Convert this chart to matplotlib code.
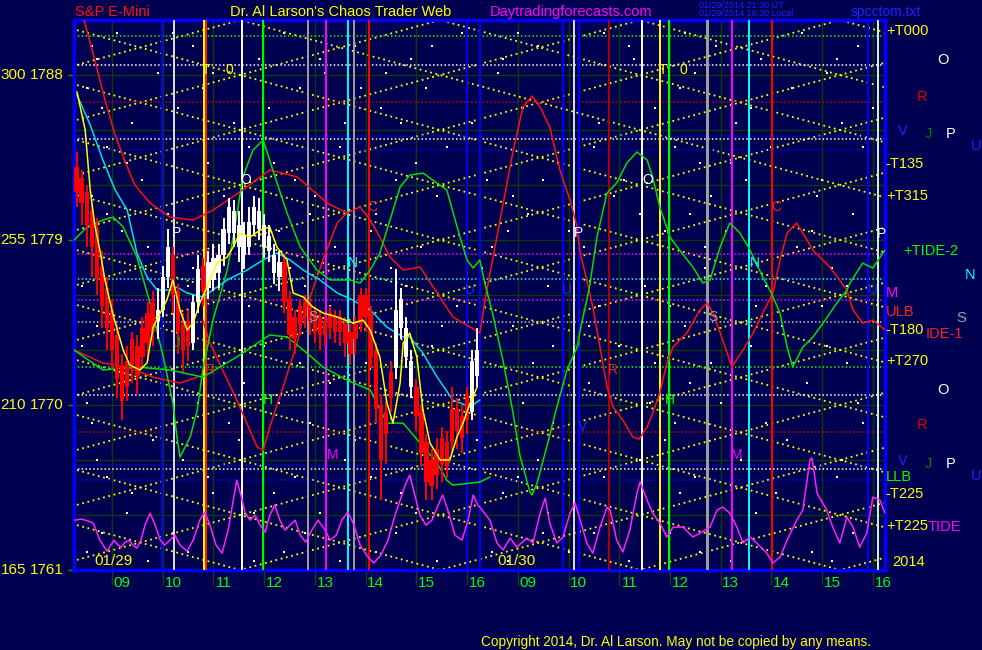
import numpy as np
import matplotlib.pyplot as plt

plt.rcParams['font.family'] = ['Liberation Sans', 'DejaVu Sans']

BG = '#000050'
GRID = '#0b3a0b'

# ---------- data: x = session hours (day 2 = hour + 8), y = price ----------
bar_time = np.round(np.arange(8.3, 16.25, 0.1), 2)
bar_open = [1783.0, 1782.4, 1781.6, 1780.6, 1779.6, 1777.6, 1776.4, 1775.2, 1773.8, 1772.2,
            1772.4, 1773.6, 1773.2, 1774.2, 1775.0, 1775.6, 1774.6, 1775.2, 1777.0, 1778.2,
            1776.2, 1774.4, 1774.6, 1773.4, 1775.6, 1777.6, 1776.4, 1776.8, 1777.2, 1778.2,
            1779.4, 1779.4, 1778.6, 1778.2, 1778.6, 1779.8, 1779.6, 1778.6, 1778.4, 1777.2,
            1777.0, 1777.8, 1775.8, 1774.8, 1775.4, 1775.6, 1775.4, 1775.0, 1774.8, 1774.6,
            1775.0, 1774.8, 1774.8, 1774.4, 1774.0, 1774.4, 1776.0, 1776.0, 1775.0, 1773.0,
            1770.0, 1769.6, 1771.8, 1772.0, 1774.2, 1772.6, 1771.0, 1771.0, 1769.6, 1768.0,
            1767.0, 1767.6, 1768.2, 1768.0, 1769.8, 1769.8, 1769.4, 1770.6, 1769.6, 1771.6]
bar_close = [1781.6, 1781.0, 1779.8, 1778.6, 1776.8, 1775.4, 1774.2, 1773.0, 1771.4, 1770.2,
             1771.0, 1772.2, 1771.6, 1772.6, 1773.4, 1774.0, 1775.2, 1777.0, 1778.6, 1776.0,
             1774.0, 1773.0, 1773.2, 1775.6, 1777.4, 1776.2, 1777.8, 1778.0, 1778.2, 1779.6,
             1780.8, 1780.6, 1779.8, 1779.2, 1780.0, 1780.8, 1780.6, 1779.8, 1779.2, 1778.2,
             1777.8, 1775.6, 1773.8, 1773.6, 1774.4, 1774.8, 1774.6, 1774.0, 1773.8, 1773.8,
             1774.2, 1774.0, 1774.0, 1773.4, 1772.8, 1773.6, 1774.4, 1774.8, 1772.6, 1769.8,
             1767.0, 1768.4, 1770.4, 1775.2, 1775.8, 1774.2, 1772.4, 1769.4, 1767.4, 1765.8,
             1765.6, 1766.2, 1766.8, 1766.6, 1768.0, 1768.6, 1768.2, 1769.2, 1772.4, 1773.0]
bar_high = [1783.8, 1782.8, 1782.0, 1781.0, 1780.2, 1778.4, 1777.0, 1775.8, 1774.4, 1772.8,
            1773.2, 1774.0, 1773.8, 1774.8, 1775.6, 1776.2, 1776.4, 1777.6, 1779.6, 1778.6,
            1776.6, 1775.0, 1775.2, 1776.0, 1778.2, 1778.0, 1778.4, 1778.8, 1778.8, 1780.2,
            1781.3, 1781.2, 1780.6, 1780.0, 1780.8, 1781.4, 1781.3, 1780.4, 1779.8, 1778.8,
            1778.4, 1778.2, 1776.2, 1775.2, 1775.8, 1776.0, 1775.8, 1775.4, 1775.2, 1775.0,
            1775.4, 1775.2, 1775.2, 1774.8, 1774.4, 1774.8, 1776.4, 1776.4, 1775.4, 1773.4,
            1770.6, 1770.2, 1772.4, 1777.4, 1776.4, 1774.8, 1773.0, 1771.4, 1770.0, 1768.4,
            1767.6, 1768.2, 1768.8, 1768.6, 1771.0, 1770.4, 1770.0, 1771.0, 1773.0, 1774.2]
bar_low = [1780.8, 1779.8, 1778.6, 1777.0, 1776.0, 1774.2, 1773.0, 1772.0, 1770.4, 1769.2,
           1770.2, 1771.2, 1770.6, 1772.0, 1772.4, 1773.2, 1773.6, 1774.8, 1776.4, 1775.0,
           1772.8, 1771.8, 1772.4, 1773.0, 1775.0, 1775.4, 1775.8, 1776.2, 1776.4, 1777.6,
           1778.8, 1778.6, 1777.8, 1777.4, 1778.2, 1779.2, 1779.0, 1778.0, 1777.8, 1776.6,
           1776.2, 1775.0, 1773.0, 1772.8, 1773.8, 1774.2, 1773.8, 1773.4, 1773.0, 1773.2,
           1773.6, 1773.4, 1773.2, 1772.6, 1772.2, 1772.8, 1774.0, 1774.0, 1772.0, 1769.0,
           1764.8, 1766.8, 1769.6, 1771.4, 1773.6, 1772.0, 1770.4, 1768.6, 1766.6, 1764.8,
           1764.8, 1765.4, 1765.8, 1766.0, 1767.4, 1767.6, 1767.4, 1768.4, 1769.2, 1771.0]

# forecast / average curves
red_t = [8.40, 8.66, 8.86, 9.06, 9.26, 9.45, 9.75, 10.14, 10.60, 10.99, 11.58, 12.11, 12.65, 13.24,
         13.63, 13.89, 14.09, 14.28, 14.48, 14.74, 15.07, 15.41, 15.72, 16.06, 16.25, 16.39, 16.65,
         16.90, 17.10, 17.28, 17.44, 17.63, 17.83, 18.03, 18.17, 18.23, 18.36, 18.48, 18.62, 18.76,
         18.88, 19.07, 19.27, 19.39, 19.55, 19.66, 19.80, 19.94, 20.06, 20.33, 20.59, 20.73, 20.85,
         21.04, 21.22, 21.44, 21.64, 21.83, 22.03, 22.17, 22.31, 22.50, 22.62, 22.82, 23.15, 23.49,
         23.61, 23.80, 24.00, 24.24]
red_p = [1791.5, 1788.82, 1786.64, 1784.73, 1783.25, 1782.0, 1781.02, 1780.25, 1780.09, 1780.63,
         1781.73, 1782.82, 1782.44, 1781.02, 1780.47, 1780.80, 1780.09, 1779.16, 1778.07, 1777.36,
         1777.53, 1776.11, 1774.80, 1774.25, 1773.92, 1776.27, 1780.09, 1783.74, 1786.25, 1786.85,
         1786.25, 1785.16, 1782.82, 1781.18, 1779.71, 1778.29, 1776.82, 1775.34, 1773.16, 1770.98,
         1769.89, 1769.18, 1768.25, 1768.14, 1768.80, 1769.56, 1770.65, 1772.29, 1773.16, 1773.92,
         1775.18, 1775.56, 1775.02, 1773.54, 1772.07, 1773.0, 1773.92, 1775.02, 1776.11, 1777.91,
         1779.38, 1779.93, 1779.38, 1778.45, 1777.53, 1776.27, 1775.18, 1774.47, 1774.63, 1774.09]
red2_t = [8.25, 8.82, 9.30, 9.81, 10.34, 10.68]
red2_p = [1773.0, 1772.29, 1772.07, 1771.52, 1771.20, 1771.52]
red3_t = [10.79, 10.93, 11.46, 11.86, 11.98, 12.11, 12.37, 12.65, 12.77, 13.16, 13.44, 13.63]
red3_p = [1774.63, 1773.38, 1770.27, 1767.71, 1767.54, 1768.80, 1770.98, 1773.38, 1774.80,
          1777.91, 1779.93, 1780.47]

green_t = [8.25, 8.51, 8.82, 9.02, 9.22, 9.49, 9.75, 10.01, 10.20, 10.28, 10.34, 10.54, 10.68, 10.79,
           10.99, 11.27, 11.39, 11.58, 11.78, 11.98, 12.17, 12.45, 12.71, 13.04, 13.30, 13.69, 13.89,
           14.09, 14.28, 14.48, 14.68, 14.87, 15.13, 15.60, 15.86, 16.00, 16.12, 16.25, 16.35, 16.51,
           16.71, 16.90, 17.04, 17.24, 17.28, 17.38, 17.57, 17.77, 17.97, 18.17, 18.23, 18.36, 18.42,
           18.56, 18.76, 18.95, 19.15, 19.35, 19.55, 19.66, 19.80, 20.00, 20.19, 20.45, 20.65, 20.79,
           20.99, 21.18, 21.38, 21.58, 21.83, 21.97, 22.17, 22.31, 22.42, 22.62, 22.82, 23.02, 23.29,
           23.49, 23.55, 23.80, 24.00, 24.24]
green_p = [1779.0, 1779.71, 1780.09, 1780.25, 1779.71, 1778.07, 1775.56, 1772.62, 1770.11, 1768.25,
           1767.16, 1768.25, 1769.72, 1771.91, 1774.63, 1777.36, 1779.16, 1782.44, 1783.91, 1784.45,
           1782.82, 1780.47, 1778.62, 1777.36, 1776.82, 1776.82, 1776.65, 1777.36, 1778.29, 1780.09,
           1781.89, 1782.54, 1782.65, 1781.73, 1779.16, 1777.91, 1777.47, 1777.91, 1776.65, 1774.91,
           1772.40, 1769.67, 1767.27, 1765.25, 1765.09, 1765.74, 1767.71, 1769.89, 1771.91, 1773.16,
           1774.09, 1775.72, 1776.54, 1779.16, 1781.56, 1782.11, 1783.20, 1783.80, 1783.36, 1782.44,
           1780.80, 1779.16, 1778.45, 1777.53, 1776.65, 1776.82, 1778.62, 1779.93, 1779.38, 1778.45,
           1776.98, 1776.27, 1775.02, 1773.16, 1772.07, 1773.16, 1773.71, 1774.47, 1775.56, 1776.27,
           1776.65, 1777.74, 1777.47, 1778.45]
green2_t = [8.25, 8.82, 9.49, 10.14, 10.79, 11.46, 12.11, 12.45, 12.77, 13.16, 13.63, 14.09, 14.42,
            14.74, 15.41, 15.60, 15.72, 16.25, 16.45]
green2_p = [1773.0, 1771.91, 1772.07, 1771.91, 1771.52, 1772.62, 1773.82, 1773.71, 1773.0, 1772.07,
            1771.36, 1770.82, 1769.01, 1769.01, 1766.83, 1765.90, 1765.63, 1765.80, 1766.07]

cyan_t = [8.31, 8.57, 8.82, 9.06, 9.30, 9.49, 9.69, 9.89, 10.14, 10.28, 10.48, 10.79, 10.99, 11.27,
          11.66, 11.98, 12.25, 12.51, 12.77, 13.10, 13.44, 13.75, 14.09, 14.42, 14.74, 14.87, 15.13,
          15.41, 15.72, 16.06, 16.25]
cyan_p = [1786.91, 1785.27, 1783.36, 1781.73, 1780.63, 1778.29, 1776.98, 1776.27, 1776.27, 1776.43,
          1776.11, 1775.89, 1776.27, 1776.82, 1777.36, 1777.91, 1778.29, 1777.91, 1777.36, 1776.82,
          1776.11, 1775.72, 1775.18, 1774.25, 1773.71, 1773.71, 1772.83, 1771.52, 1770.27, 1769.89,
          1770.27]

yellow_t = [8.31, 8.47, 8.57, 8.66, 8.76, 8.86, 9.02, 9.22, 9.35, 9.55, 9.69, 9.81, 9.95, 10.08, 10.20,
            10.34, 10.48, 10.60, 10.73, 10.87, 11.07, 11.27, 11.39, 11.52, 11.72, 11.92, 12.11, 12.25,
            12.45, 12.57, 12.77, 12.96, 13.16, 13.44, 13.75, 13.95, 14.09, 14.28, 14.42, 14.54, 14.68,
            14.74, 14.87, 15.01, 15.13, 15.27, 15.47, 15.66, 15.80, 15.92, 16.06, 16.20]
yellow_p = [1787.07, 1785.0, 1781.73, 1779.82, 1778.45, 1776.82, 1774.91, 1773.0, 1772.18, 1771.91,
            1772.29, 1774.25, 1775.02, 1775.72, 1776.82, 1775.18, 1774.09, 1774.47, 1775.56, 1776.43,
            1777.74, 1778.07, 1778.62, 1779.38, 1779.16, 1779.54, 1779.71, 1778.62, 1777.91, 1776.11,
            1775.89, 1775.34, 1775.02, 1774.80, 1774.47, 1774.63, 1774.09, 1772.62, 1770.11, 1769.01,
            1771.20, 1773.38, 1773.92, 1772.62, 1769.72, 1767.92, 1767.0, 1767.0, 1768.25, 1769.01,
            1770.11, 1770.98]

tide_t = [8.27, 8.39, 8.53, 8.63, 8.76, 8.90, 9.04, 9.12, 9.18, 9.26, 9.34, 9.41, 9.49, 9.57, 9.65,
          9.75, 9.85, 9.95, 10.04, 10.14, 10.24, 10.34, 10.48, 10.60, 10.73, 10.83, 10.93, 11.05,
          11.17, 11.29, 11.39, 11.46, 11.54, 11.62, 11.72, 11.82, 11.92, 12.02, 12.11, 12.21, 12.31,
          12.41, 12.51, 12.61, 12.71, 12.82, 12.94, 13.06, 13.20, 13.30, 13.42, 13.53, 13.65, 13.77,
          13.89, 14.03, 14.16, 14.30, 14.44, 14.58, 14.68, 14.78, 14.87, 14.97, 15.07, 15.19, 15.31,
          15.43, 15.52, 15.62, 15.76, 15.90, 16.02, 16.12, 16.21,
          16.25, 16.45, 16.59, 16.71, 16.85, 16.98, 17.18, 17.30, 17.44, 17.54, 17.63, 17.77, 17.89,
          18.03, 18.13, 18.23, 18.36, 18.48, 18.62, 18.76, 18.82, 18.95, 19.07, 19.21, 19.35, 19.41,
          19.55, 19.66, 19.80, 19.94, 20.06, 20.26, 20.45, 20.59, 20.79, 20.93, 21.04, 21.18, 21.32,
          21.44, 21.58, 21.71, 21.91, 22.03, 22.17, 22.31, 22.50, 22.62, 22.76, 22.80, 22.90, 23.09,
          23.21, 23.35, 23.49, 23.61, 23.74, 23.88, 24.00, 24.14, 24.24]
tide_p = [1763.72, 1763.78, 1763.67, 1763.56, 1762.63, 1762.03, 1762.63, 1762.36, 1762.25, 1762.52,
          1762.63, 1762.36, 1762.19, 1762.63, 1763.45, 1764.10, 1763.45, 1762.63, 1762.36, 1762.63,
          1762.90, 1762.36, 1762.03, 1762.63, 1763.72, 1764.16, 1763.45, 1762.36, 1761.92, 1763.18,
          1764.81, 1765.90, 1765.09, 1764.16, 1763.72, 1763.99, 1763.45, 1763.07, 1763.99, 1764.54,
          1763.72, 1763.18, 1763.45, 1763.72, 1762.90, 1762.52, 1763.18, 1763.72, 1763.18, 1762.63,
          1762.90, 1763.72, 1764.16, 1763.45, 1762.36, 1761.76, 1761.38, 1761.81, 1762.63, 1763.99,
          1764.81, 1765.63, 1766.18, 1765.09, 1763.99, 1763.45, 1763.72, 1764.54, 1765.09, 1764.27,
          1762.90, 1762.63, 1763.72, 1765.09, 1764.54,
          1764.43, 1763.72, 1762.47, 1762.09, 1762.74, 1762.25, 1762.74, 1762.47, 1764.10, 1764.92,
          1763.56, 1762.47, 1762.80, 1764.10, 1764.65, 1763.72, 1762.47, 1761.92, 1763.34, 1764.43,
          1764.27, 1762.63, 1761.98, 1763.18, 1765.20, 1765.80, 1764.81, 1764.10, 1763.56, 1762.80,
          1763.34, 1763.34, 1762.80, 1763.01, 1763.34, 1764.27, 1764.43, 1764.10, 1763.34, 1762.47,
          1762.80, 1762.47, 1761.92, 1761.38, 1761.70, 1762.63, 1763.72, 1764.27, 1767.00, 1767.11,
          1765.20, 1764.27, 1763.34, 1762.47, 1763.89, 1763.34, 1762.25, 1763.01, 1764.98, 1764.81,
          1764.10]

# dotted price levels
level_price = [1790.13, 1788.55, 1786.55, 1784.67, 1784.5, 1783.9, 1778.23, 1776.87, 1775.72,
               1774.52, 1772.07, 1770.54, 1768.52, 1766.72, 1766.5, 1765.9]
level_color = ['#00ff00', '#ffffff', '#c00000', '#0000ff', '#ffffff', '#0000ff', '#ff00ff', '#00ffff',
               '#ff00ff', '#c8c8c8', '#00ff00', '#ffffff', '#c00000', '#0000ff', '#ffffff', '#0000ff']

# time lines
vline_time = [9.99, 10.22, 10.81, 10.85, 11.56, 11.98, 12.86, 13.22, 13.65, 13.77, 14.07, 16.0, 16.25,
              17.89, 18.11, 18.2, 18.8, 19.45, 19.8, 19.98, 20.73, 20.76, 21.22, 21.56, 22.01, 23.9, 24.1]
vline_color = ['#0000ff', '#e0e0e0', '#ffff00', '#ff2000', '#ffffff', '#00ff00', '#a0a0a0', '#ff00ff',
               '#00ffff', '#a0a0a0', '#ff0000', '#0000ff', '#0000ff',
               '#0000ff', '#e0e0e0', '#0000ff', '#b00000', '#ffffff', '#ffff00', '#00ff00', '#a0a0a0',
               '#a0a0a0', '#ff00ff', '#00ffff', '#ff0000', '#0000ff', '#c8ffc8']

# price-time lattice (yellow dotted)
lattice_slope = 0.761
lattice_step = 3.0
lattice_anchor = 19.41

# small white dots
star_rows = [1790.3, 1789.6, 1788.9, 1788.1, 1787.3, 1786.2, 1785.4, 1784.1, 1783.2, 1782.3, 1781.4,
             1780.4, 1779.5, 1778.6, 1777.5, 1776.5, 1775.4, 1774.3, 1773.2, 1772.3, 1771.2, 1770.1,
             1769.0, 1768.1, 1767.0, 1766.1, 1765.2, 1764.1, 1763.0, 1762.0, 1761.5]
star_hours = [[9.1, 12.4, 15.9, 18.7, 22.6, 10.2, 17.0, 20.3], [10.6, 13.8, 17.4, 20.9, 23.7, 8.6, 15.3, 19.2],
              [8.7, 11.9, 14.9, 19.3, 21.8, 13.1, 16.7, 23.3], [9.9, 13.2, 16.6, 18.1, 23.1, 11.0, 20.5, 14.4],
              [8.5, 12.7, 15.2, 20.2, 22.4, 10.8, 17.9, 13.9], [10.3, 14.3, 17.1, 19.7, 24.0, 8.8, 12.1, 21.6],
              [9.4, 11.4, 16.1, 21.3, 23.4, 13.6, 18.6, 14.7], [8.9, 13.5, 15.6, 18.5, 22.0, 11.7, 20.1, 23.8],
              [10.9, 12.2, 17.8, 20.6, 23.9, 9.3, 15.0, 21.2], [9.6, 14.6, 16.4, 19.1, 21.5, 12.6, 17.5, 23.0],
              [8.6, 13.0, 15.4, 18.9, 22.9, 11.2, 16.9, 20.8], [10.1, 12.9, 17.2, 20.4, 23.6, 14.2, 8.9, 19.4],
              [9.2, 14.1, 16.8, 19.9, 21.1, 12.3, 22.8, 18.0], [11.1, 13.4, 15.1, 18.3, 22.5, 9.7, 16.5, 20.7],
              [8.8, 12.5, 16.3, 20.7, 23.2, 14.5, 10.6, 18.8], [10.5, 14.8, 17.6, 19.5, 21.9, 12.8, 8.4, 23.5],
              [9.0, 11.7, 15.8, 18.6, 23.0, 13.3, 20.0, 21.7], [10.0, 13.7, 16.9, 20.3, 22.2, 8.7, 15.5, 18.4],
              [8.4, 12.0, 15.3, 19.0, 21.6, 10.4, 17.7, 23.1], [11.2, 14.0, 17.3, 20.8, 23.5, 9.1, 12.7, 19.7],
              [9.5, 13.3, 16.0, 18.4, 22.7, 11.6, 20.4, 14.9], [10.7, 12.3, 15.7, 19.6, 21.0, 8.5, 17.1, 23.7],
              [8.6, 14.4, 17.7, 20.1, 23.8, 11.3, 12.9, 21.9], [9.8, 11.5, 16.2, 18.2, 22.3, 13.8, 19.9, 15.2],
              [10.4, 13.6, 15.5, 19.4, 21.4, 8.7, 17.4, 23.4], [8.9, 12.6, 17.0, 20.5, 23.3, 10.9, 14.1, 18.7],
              [11.0, 14.7, 16.7, 18.8, 22.1, 9.4, 12.2, 20.2], [9.3, 13.1, 15.0, 19.8, 21.7, 11.8, 17.6, 23.9],
              [10.2, 12.8, 17.5, 20.0, 23.6, 8.8, 14.6, 18.5], [8.5, 14.2, 16.5, 18.0, 22.8, 10.5, 12.4, 20.6],
              [9.7, 11.8, 15.4, 19.2, 21.2, 13.5, 16.8, 23.2]]

# letters placed on the chart
mark_t = [10.85, 11.31, 19.86, 20.26, 11.64, 19.57, 10.28, 18.19, 24.18, 13.75, 21.67, 14.14, 22.09,
          16.06, 17.97, 24.0, 12.96, 20.85, 10.93, 18.88, 12.08, 20.0, 18.28, 10.28, 18.17, 13.34, 21.32]
mark_p = [1788.27, 1788.27, 1788.27, 1788.27, 1782.27, 1782.27, 1779.38, 1779.38, 1779.33, 1777.74,
          1777.74, 1780.8, 1780.8, 1776.27, 1776.27, 1776.27, 1774.8, 1774.8, 1771.91, 1771.91, 1770.27,
          1770.27, 1768.8, 1773.38, 1773.38, 1767.27, 1767.27]
mark_text = ['T', '0', 'T', '0', 'O', 'O', 'P', 'P', 'P', 'N', 'N', 'C', 'C', 'U', 'U', 'U', 'S', 'S',
             'R', 'R', 'H', 'H', 'V', 'J', 'J', 'M', 'M']
mark_color = ['#ffff00', '#ffff00', '#ffff00', '#ffff00', 'white', 'white', 'white', 'white', 'white',
              '#00ffff', '#00ffff', '#ff2020', '#ff2020', '#2020ff', '#2020ff', '#2020ff', '#a0a0a0',
              '#a0a0a0', '#ff2020', '#ff2020', '#00ff00', '#00ff00', '#2020ff', '#00a000', '#00a000',
              '#ff00ff', '#ff00ff']

hour_pos = [9, 10, 11, 12, 13, 14, 15, 16, 17, 18, 19, 20, 21, 22, 23, 24]
hour_lbl = ['09', '10', '11', '12', '13', '14', '15', '16', '09', '10', '11', '12', '13', '14', '15', '16']
price_ticks = [1788, 1779, 1770, 1761]
degree_lbl = ['300', '255', '210', '165']

# right-hand labels: (pixel x, pixel y, text, colour)
side_labels = [(886, 31, '+T000', '#ffff00'), (937, 60, 'O', 'white'), (917, 97, 'R', '#e00000'),
               (898, 131, 'V', '#2020ff'), (925, 134, 'J', '#008000'), (946, 134, 'P', 'white'),
               (971, 146, 'U', '#2020ff'), (885, 164, '-T135', '#ffff00'), (886, 196, '+T315', '#ffff00'),
               (903, 251, '+TIDE-2', '#00ff00'), (965, 275, 'N', '#00ffff'), (886, 293, 'M', '#ff00ff'),
               (886, 312, 'ULB', '#ff2020'), (956, 318, 'S', '#a0a0a0'), (926, 334, 'IDE-1', '#ff2020'),
               (885, 330, '-T180', '#ffff00'), (886, 361, '+T270', '#ffff00'), (937, 390, 'O', 'white'),
               (917, 425, 'R', '#e00000'), (898, 461, 'V', '#2020ff'), (925, 464, 'J', '#008000'),
               (946, 464, 'P', 'white'), (971, 476, 'U', '#2020ff'), (886, 477, 'LLB', '#00ff00'),
               (885, 494, '-T225', '#ffff00'), (928, 527, 'TIDE', '#ff00ff'), (886, 526, '+T225', '#ffff00'),
               (892, 562, '2014', '#ffff00')]

# ---------- drawing ----------
W, H = 982, 650
fig = plt.figure(figsize=(W / 100, H / 100), dpi=100, facecolor=BG)
ax = fig.add_axes([74 / W, 80 / H, 811 / W, 550 / H])
ax.set_facecolor(BG)
ax.set_xlim(8.25, 24.24)
ax.set_ylim(1761, 1791)

for h in hour_pos:
    ax.axvline(h, color=GRID, lw=1, zorder=1)
for p in np.arange(1761, 1792, 3):
    ax.axhline(p, color=GRID, lw=1, zorder=1)

for p, hrs in zip(star_rows, star_hours):
    ax.scatter(hrs, [p] * len(hrs), s=2, c='white', marker='s', linewidths=0, zorder=1.5)

xs = np.array([8.0, 24.5])
for k in range(-3, 15):
    for sgn in (1, -1):
        ax.plot(xs, 1761 + lattice_step * k + sgn * lattice_slope * (xs - lattice_anchor),
                color='#ffff00', lw=1.3, ls=(0, (1, 2)), zorder=2)

for p, c in zip(level_price, level_color):
    ax.axhline(p, color=c, lw=1.1, ls=(0, (1, 1.5)), zorder=2.2)

for t, c in zip(vline_time, vline_color):
    ax.axvline(t, color=c, lw=1.4, zorder=3)

ax.plot(red_t, red_p, color='#ff1010', lw=1.1, zorder=4)
ax.plot(red2_t, red2_p, color='#ff1010', lw=1.1, zorder=4)
ax.plot(red3_t, red3_p, color='#ff1010', lw=1.1, zorder=4)
ax.plot(green_t, green_p, color='#00e000', lw=1.1, zorder=4)
ax.plot(green2_t, green2_p, color='#00e000', lw=1.1, zorder=4)
ax.plot(cyan_t, cyan_p, color='#00e0e0', lw=1.1, zorder=4)
ax.plot(tide_t, tide_p, color='#ff20ff', lw=1.1, zorder=4)

o = np.array(bar_open)
c = np.array(bar_close)
up = c >= o
colors = np.where(up, 'white', '#ff0000')
ax.vlines(bar_time, bar_low, bar_high, colors=colors, lw=1.4, zorder=5)
ax.bar(bar_time, np.abs(c - o), bottom=np.minimum(o, c), width=0.085, color=colors, linewidth=0, zorder=5)
ax.plot(yellow_t, yellow_p, color='#ffff00', lw=1.1, zorder=6)

for t, p, s, col in zip(mark_t, mark_p, mark_text, mark_color):
    ax.text(t, p, s, color=col, fontsize=10, ha='center', va='center', zorder=7)

ax.text(9.02, 1761.5, '01/29', color='#ffff00', fontsize=11, ha='center', va='center', zorder=7)
ax.text(16.98, 1761.5, '01/30', color='#ffff00', fontsize=11, ha='center', va='center', zorder=7)

for s in ax.spines.values():
    s.set_color('#0000ff')
    s.set_linewidth(2.5)
ax.set_xticks(hour_pos)
ax.set_xticklabels([])
ax.tick_params(axis='x', length=11, width=1, color='#1c3c1c', direction='out')
ax.set_yticks(price_ticks)
ax.set_yticklabels([])
ax.tick_params(axis='y', length=4, width=1, color='#00a000', direction='out')

for h, lbl in zip(hour_pos, hour_lbl):
    ax.text(h + 0.2, -0.024, lbl, transform=ax.get_xaxis_transform(), color='#00ff00',
            fontsize=11, ha='center', va='center', clip_on=False)
for p, d in zip(price_ticks, degree_lbl):
    ax.text(-0.0593, p, d, transform=ax.get_yaxis_transform(), color='#ffff00', fontsize=11,
            ha='right', va='center', clip_on=False)
    ax.text(-0.0123, p, str(p), transform=ax.get_yaxis_transform(), color='#ffff00', fontsize=11,
            ha='right', va='center', clip_on=False)

for x, y, s, col in side_labels:
    fig.text(x / W, 1 - y / H, s, color=col, fontsize=10.5, ha='left', va='center')

fig.text(75 / W, 1 - 12 / H, 'S&P E-Mini', color='#ff1010', fontsize=10.5, va='center')
fig.text(230 / W, 1 - 12 / H, "Dr. Al Larson's Chaos Trader Web", color='#ffff00', fontsize=10.5, va='center')
fig.text(490 / W, 1 - 12 / H, 'Daytradingforecasts.com', color='#ff00ff', fontsize=10.5, va='center')
fig.text(699 / W, 1 - 5 / H, '01/29/2014 21:30 UT', color='#2020ff', fontsize=6.5, va='center')
fig.text(699 / W, 1 - 14 / H, '01/29/2014 16:30 Local', color='#2020ff', fontsize=6.5, va='center')
fig.text(851 / W, 1 - 12 / H, 'spcctom.txt', color='#2020ff', fontsize=10, va='center')
fig.text(481 / W, 1 - 642 / H, 'Copyright 2014, Dr. Al Larson. May not be copied by any means.',
         color='#ffff00', fontsize=9.8, va='center')

fig.savefig('out.png', dpi=100, facecolor=BG)
